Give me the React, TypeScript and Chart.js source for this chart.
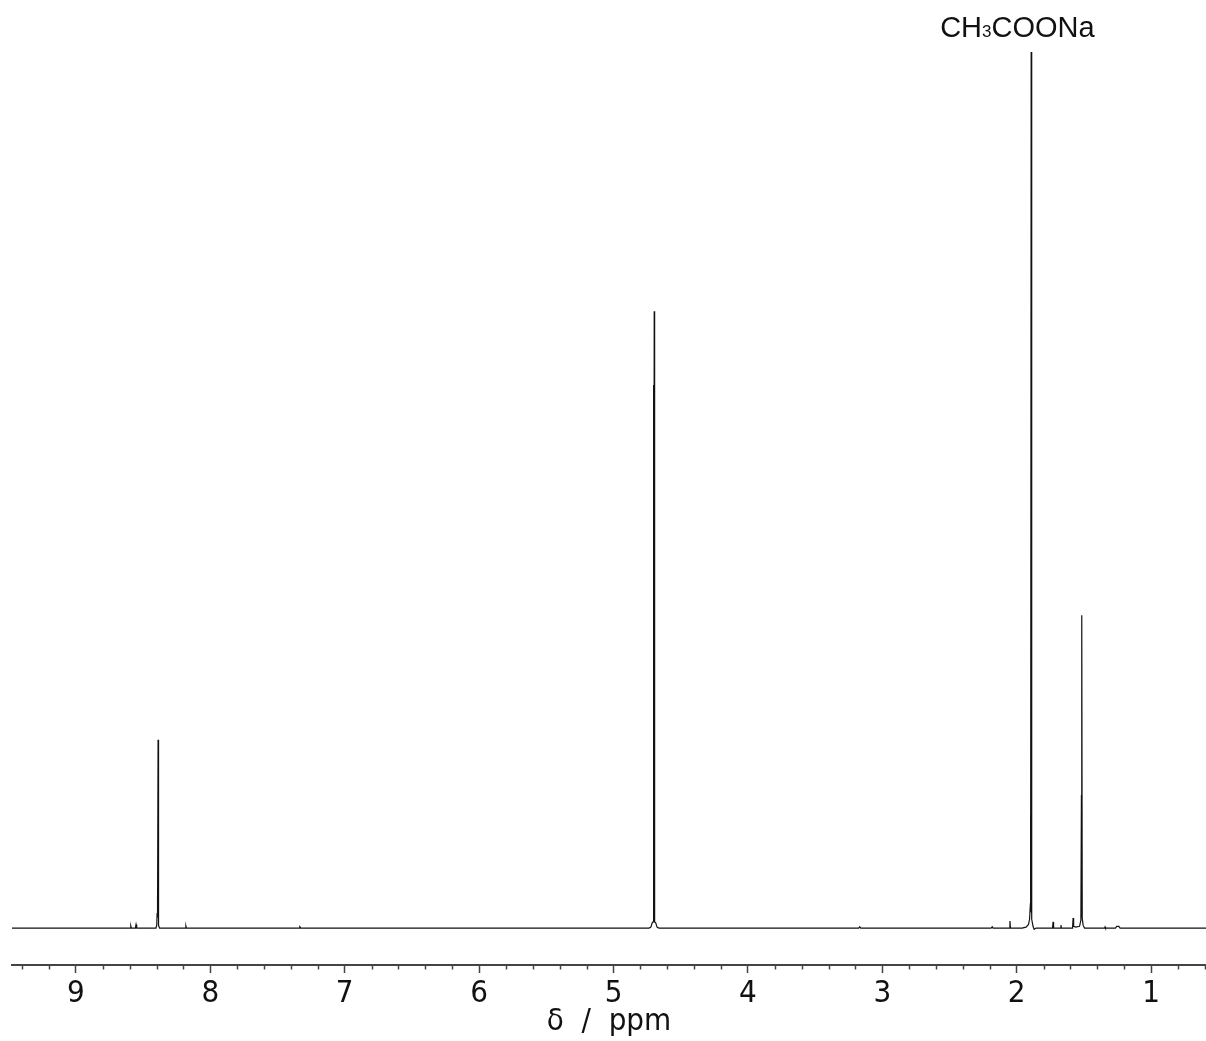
import React, { useEffect, useRef } from "react";
import { Chart, registerables } from "chart.js";

Chart.register(...registerables);

// Chemical shift (ppm) and relative intensity of the 1H NMR trace
const shifts = [
  9.476, 8.62, 8.596, 8.592, 8.588, 8.558, 8.553, 8.548,
  8.405, 8.399, 8.396, 8.394, 8.392, 8.389, 8.387, 8.384, 8.378,
  8.186, 8.182, 8.178, 7.34, 7.334, 7.326,
  4.735, 4.722, 4.712, 4.706, 4.703, 4.7, 4.697, 4.694, 4.686, 4.676, 4.662,
  3.175, 3.168, 3.16, 2.19, 2.182, 2.176, 2.054, 2.05, 2.046,
  1.96, 1.93, 1.912, 1.904, 1.899, 1.897, 1.895, 1.892, 1.89, 1.886, 1.878, 1.87, 1.855,
  1.733, 1.729, 1.725, 1.673, 1.67, 1.667, 1.584, 1.58, 1.576, 1.56,
  1.532, 1.522, 1.518, 1.517, 1.514, 1.512, 1.505, 1.495,
  1.345, 1.342, 1.339, 1.265, 1.255, 1.24, 1.23, 0.591,
];
const intensities = [
  0, 0, 0, 0.25, 0, 0, 0.4, 0,
  0, 0.3, 1.7, 3.7, 1.2, 21.5, 1.5, 0.3, 0,
  0, 0.25, 0, 0, 0.15, 0,
  0, 0.1, 0.6, 0.7, 62, 1.0, 70.4, 0.7, 0.6, 0.1, 0,
  0, 0.15, 0, 0, 0.15, 0, 0, 0.8, 0,
  0, 0.1, 0.4, 1.0, 2.4, 12.9, 2.2, 100, 2.4, 1.0, 0.2, -0.15, 0,
  0, 0.7, 0, 0, 0.35, 0, 0, 1.15, 0.2, 0.1,
  0.2, 0.9, 15.2, 1.2, 35.7, 1.1, 0.3, 0,
  0, 0.12, 0, 0, 0.2, 0.2, 0, 0,
];
const majorTicks = [1, 2, 3, 4, 5, 6, 7, 8, 9];
const axisTitle = "δ  /  ppm";
const annotationParts = ["CH", "3", "COONa"];
const annotationShift = 1.892;

const X_MIN = 0.591;
const X_MAX = 9.476;
const Y_MIN = -4.22;
const Y_MAX = 105.94;

const AXIS_COLOR = "#444";
const COND_FONT =
  "'Liberation Sans Narrow', 'DejaVu Sans Condensed', 'Liberation Sans', sans-serif";

const decorPlugin = {
  id: "decor",
  afterDraw(chart: any) {
    const ctx = chart.ctx as CanvasRenderingContext2D;
    const xs = chart.scales.x;
    const y0 = xs.top;
    ctx.save();
    // minor ticks every 0.2 ppm
    ctx.strokeStyle = AXIS_COLOR;
    ctx.lineWidth = 1.5;
    for (let i = Math.ceil(xs.min * 5); i <= Math.floor(xs.max * 5); i++) {
      if (i % 5 === 0) continue;
      const px = Math.round(xs.getPixelForValue(i / 5)) + 0.5;
      ctx.beginPath();
      ctx.moveTo(px, y0);
      ctx.lineTo(px, y0 + 4.5);
      ctx.stroke();
    }
    // annotation above the acetate peak
    const peakX = xs.getPixelForValue(annotationShift);
    let x = peakX - 91;
    const baseY = 37;
    ctx.fillStyle = "#111";
    ctx.textBaseline = "alphabetic";
    ctx.textAlign = "left";
    ctx.font = "29px 'Liberation Sans', Arial, sans-serif";
    ctx.fillText(annotationParts[0], x, baseY);
    x += ctx.measureText(annotationParts[0]).width;
    ctx.font = "17px 'Liberation Sans', Arial, sans-serif";
    ctx.fillText(annotationParts[1], x, baseY);
    x += ctx.measureText(annotationParts[1]).width;
    ctx.font = "29px 'Liberation Sans', Arial, sans-serif";
    ctx.fillText(annotationParts[2], x, baseY);
    ctx.restore();
  },
};

export default function App() {
  const canvasRef = useRef<HTMLCanvasElement | null>(null);

  useEffect(() => {
    document.body.style.margin = "0";
    const canvas = canvasRef.current;
    if (!canvas) return;
    const chart = new Chart(canvas, {
      type: "line",
      data: {
        datasets: [
          {
            data: shifts.map((s, i) => ({ x: s, y: intensities[i] })),
            borderColor: "#111",
            borderWidth: 1.2,
            pointRadius: 0,
            fill: false,
            tension: 0,
          },
        ],
      },
      options: {
        animation: false,
        responsive: false,
        events: [],
        layout: { padding: { left: 12, right: 0, top: 0, bottom: 0 } },
        plugins: {
          legend: { display: false },
          tooltip: { enabled: false },
        },
        scales: {
          x: {
            type: "linear",
            reverse: true,
            min: X_MIN,
            max: X_MAX,
            position: "bottom",
            afterFit: (s: any) => {
              s.height = 76;
            },
            border: { display: true, color: AXIS_COLOR, width: 2 },
            grid: {
              drawOnChartArea: false,
              drawTicks: true,
              tickLength: 8,
              tickColor: AXIS_COLOR,
              tickWidth: 1.5,
            },
            ticks: {
              stepSize: 1,
              includeBounds: false,
              maxRotation: 0,
              autoSkip: false,
              color: "#111",
              padding: 2,
              font: { family: COND_FONT, size: 31 },
              callback: (v: any) => (majorTicks.includes(Number(v)) ? String(v) : ""),
            },
            title: {
              display: true,
              text: axisTitle,
              color: "#111",
              font: { family: COND_FONT, size: 31 },
              padding: 0,
            },
          },
          y: { display: false, min: Y_MIN, max: Y_MAX },
        },
      },
      plugins: [decorPlugin],
    } as any);
    return () => chart.destroy();
  }, []);

  return (
    <div style={{ width: 1206, height: 1041 }}>
      <canvas ref={canvasRef} width={1206} height={1041} />
    </div>
  );
}
